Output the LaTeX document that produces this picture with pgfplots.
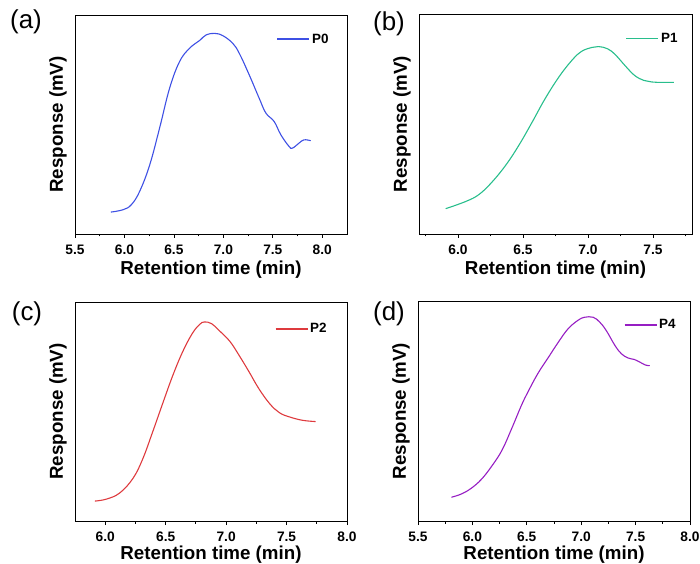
\documentclass[border=0pt]{standalone}
\usepackage{fontspec}
\setmainfont{Liberation Sans}
\usepackage{pgfplots}
\pgfplotsset{compat=1.18}
\definecolor{cA}{RGB}{62,80,228}
\definecolor{cB}{RGB}{40,190,140}
\definecolor{cC}{RGB}{222,58,62}
\definecolor{cD}{RGB}{150,30,195}
\pgfplotsset{
 panel/.style={
  scale only axis, anchor=south west,
  ymin=0, ymax=100, ytick=\empty,
  axis line style={line width=0.9bp},
  xtick pos=lower, tick align=outside,
  major tick length=4bp, minor tick length=2.5bp,
  every tick/.style={black, line width=0.8bp},
  /pgf/number format/assume math mode=true,
  xticklabel style={/pgf/number format/fixed, /pgf/number format/fixed zerofill, /pgf/number format/precision=1, yshift=-3.5bp},
  ticklabel style={font=\fontsize{13.8}{16}\selectfont\bfseries},
  label style={font=\fontsize{18.8}{22}\selectfont\bfseries},
  xlabel={Retention time (min)}, ylabel={Response (mV)},
  xlabel style={at={(axis description cs:0.5,-0.162)}, anchor=center},
  ylabel style={at={(axis description cs:-0.0625,0.5)}, anchor=center},
  legend style={draw=none, fill=none, font=\fontsize{13.5}{16}\selectfont\bfseries, anchor=east, inner sep=0pt},
  legend image code/.code={\draw[##1, sharp plot, line width=1.2bp] (0bp,0bp) -- (32bp,0bp);},
 },
 curve/.style={line width=1.1bp, smooth, tension=0.65, no markers},
}
\begin{document}
\begin{tikzpicture}
% (a)
\begin{axis}[panel, at={(75bp,330bp)}, width=272bp, height=219bp,
  xmin=5.5, xmax=8.25, xtick={5.5,6,6.5,7,7.5,8}, minor xtick={5.75,6.25,6.75,7.25,7.75},
  legend style={at={(axis description cs:0.94,0.89)}}]
\addplot[curve, cA] coordinates {
(5.862,10.0) (5.987,11.1) (6.070,13.4) (6.154,19.5) (6.255,31.5) (6.356,48.5)
(6.456,66.5) (6.557,78.7) (6.658,84.8) (6.758,88.3) (6.826,90.9) (6.909,91.6)
(6.993,90.6) (7.094,87.1) (7.161,82.5) (7.262,72.6) (7.362,62.0) (7.430,55.2)
(7.513,51.4) (7.581,45.3) (7.664,40.0) (7.698,39.2) (7.765,41.5) (7.815,43.0) (7.883,42.6)};
\addlegendentry{P0}
\end{axis}
% (b)
\begin{axis}[panel, at={(419bp,330bp)}, width=273bp, height=220bp,
  xmin=5.7, xmax=7.8, xtick={6,6.5,7,7.5}, minor xtick={5.75,6.25,6.75,7.25,7.75},
  legend style={at={(axis description cs:0.955,0.889)}}]
\addplot[curve, cB] coordinates {
(5.905,11.5) (6.06,14.8) (6.16,17.9) (6.26,23.5) (6.37,31.5) (6.47,40.5)
(6.57,50.8) (6.67,61.5) (6.78,71.7) (6.88,79.2) (6.95,83.0) (7.03,84.8)
(7.08,85.2) (7.15,84.2) (7.21,81.5) (7.29,76.2) (7.36,72.0) (7.43,69.8)
(7.49,69.1) (7.57,68.9) (7.66,68.9)};
\addlegendentry{P1}
\end{axis}
% (c)
\begin{axis}[panel, at={(75bp,43bp)}, width=272bp, height=219bp,
  xmin=5.75, xmax=8.0, xtick={6,6.5,7,7.5,8}, minor xtick={6.25,6.75,7.25,7.75},
  xlabel style={at={(axis description cs:0.5,-0.155)}},
  legend style={at={(axis description cs:0.933,0.877)}}]
\addplot[curve, cC] coordinates {
(5.915,9.1) (6.01,10.0) (6.12,12.8) (6.23,19.5) (6.31,28.3) (6.39,40.3)
(6.48,54.4) (6.56,66.6) (6.64,77.2) (6.72,85.6) (6.78,89.7) (6.82,90.9)
(6.88,90.1) (6.94,87.1) (7.03,82.1) (7.11,75.4) (7.19,68.1) (7.27,60.5)
(7.36,53.6) (7.44,49.5) (7.52,47.6) (7.63,46.0) (7.74,45.4)};
\addlegendentry{P2}
\end{axis}
% (d)
\begin{axis}[panel, at={(418bp,43bp)}, width=272bp, height=220bp,
  xmin=5.5, xmax=8.0, xtick={5.5,6,6.5,7,7.5,8}, minor xtick={5.75,6.25,6.75,7.25,7.75},
  xlabel style={at={(axis description cs:0.5,-0.155)}},
  legend style={at={(axis description cs:0.955,0.891)}}]
\addplot[curve, cD] coordinates {
(5.807,10.8) (5.90,12.3) (5.99,14.9) (6.08,18.8) (6.17,24.4) (6.27,32.0)
(6.36,41.9) (6.45,52.5) (6.51,58.6) (6.60,66.9) (6.70,74.5) (6.79,81.3)
(6.88,87.4) (6.97,91.2) (7.03,92.6) (7.11,92.6) (7.17,90.4) (7.23,86.6)
(7.31,79.8) (7.37,76.0) (7.43,74.1) (7.49,73.4) (7.54,72.2) (7.59,70.9) (7.63,70.6)};
\addlegendentry{P4}
\end{axis}
\node[font=\fontsize{26}{30}\selectfont] at (26bp,542bp) {(a)};
\node[font=\fontsize{26}{30}\selectfont] at (389bp,540bp) {(b)};
\node[font=\fontsize{26}{30}\selectfont] at (27bp,250bp) {(c)};
\node[font=\fontsize{26}{30}\selectfont] at (389bp,250bp) {(d)};
\pgfresetboundingbox
\path[use as bounding box] (0bp,0bp) rectangle (700bp,564bp);
\end{tikzpicture}
\end{document}
